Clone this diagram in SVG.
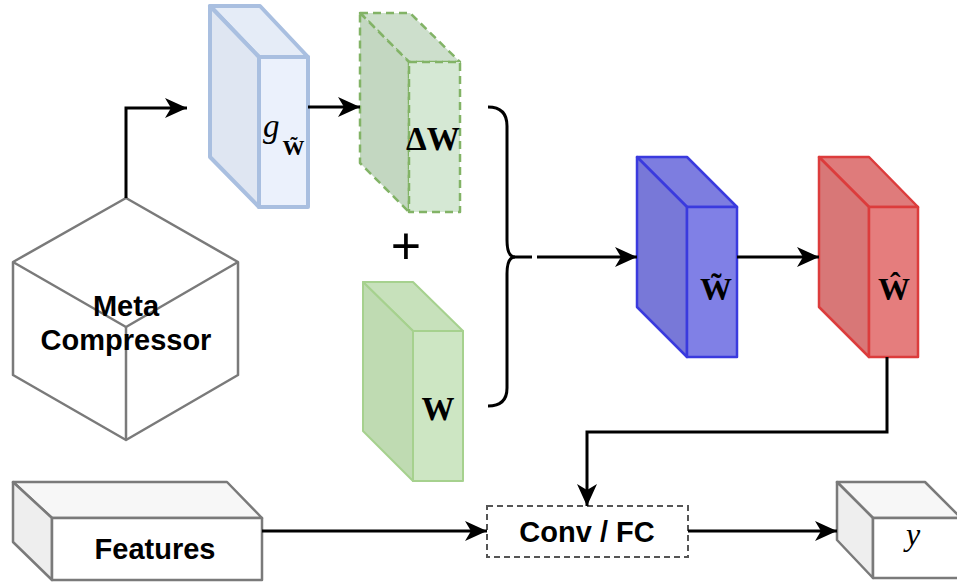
<svg xmlns="http://www.w3.org/2000/svg" width="957" height="585" viewBox="0 0 957 585">
<defs>
<marker id="arr" markerUnits="userSpaceOnUse" markerWidth="24" markerHeight="22" refX="22" refY="10" orient="auto" overflow="visible">
<path d="M0,0 L22,10 L0,20 L6,10 Z" fill="#000"/>
</marker>
<style>
.conn{fill:none;stroke:#000;stroke-width:3;marker-end:url(#arr)}
.line{fill:none;stroke:#000;stroke-width:3}
.gray{stroke:#7a7a7a;stroke-width:2.5;stroke-linejoin:round}
.sans{font-family:"Liberation Sans",Arial,Helvetica,sans-serif;font-weight:bold;font-size:29px;fill:#000}
.serif{font-family:"Liberation Serif","Times New Roman",serif;font-weight:bold;fill:#000}
.g1{stroke:#a9bfe0;stroke-width:4;stroke-linejoin:round}
.g2{stroke:#82b366;stroke-width:2.5;stroke-dasharray:8 5;stroke-linejoin:round}
.g3{stroke:#a6d18e;stroke-width:2;stroke-linejoin:round}
.g4{stroke:#3a3ade;stroke-width:2.5;stroke-linejoin:round}
.g5{stroke:#dc3c3c;stroke-width:2.5;stroke-linejoin:round}
</style>
</defs>
<rect width="957" height="585" fill="#fff"/>

<g id="meta-compressor">
<polygon class="gray" points="126,198 238,262 238,375 126,440 13,375 13,262" fill="#fff"/>
<polyline class="gray" points="13,262 126,327 238,262" fill="none"/>
<line class="gray" x1="126" y1="327" x2="126" y2="440"/>
<text class="sans" x="126" y="316" text-anchor="middle">Meta</text>
<text class="sans" x="126" y="350" text-anchor="middle">Compressor</text>
</g>

<g id="g-w">
<polygon class="g1" points="210,6 260,6 308,57 259,57" fill="#e5ecf7"/>
<polygon class="g1" points="210,6 259,57 259,207 210,157" fill="#dfe6f2"/>
<rect class="g1" x="259" y="57" width="49" height="150" fill="#ebf1fc"/>
<text x="263" y="137" font-family="Liberation Serif,serif" font-style="italic" font-size="33">g<tspan font-style="normal" font-weight="bold" font-size="22" dx="3" dy="18">W̃</tspan></text>
</g>

<g id="delta-w">
<polygon class="g2" points="360,13 410,13 460,62 409,62" fill="#cddfcc"/>
<polygon class="g2" points="360,13 409,62 409,212 360,163" fill="#c3d7c1"/>
<rect class="g2" x="409" y="62" width="51" height="150" fill="#d5e8d4"/>
<text class="serif" x="406" y="150" font-size="33">ΔW</text>
</g>

<g id="plus">
<text x="406" y="264" font-family="Liberation Sans,sans-serif" font-size="52" text-anchor="middle">+</text>
</g>

<g id="w">
<polygon class="g3" points="363,282 413,282 463,331 413,331" fill="#c7e1bb"/>
<polygon class="g3" points="363,282 413,331 413,481 363,431" fill="#bfdbb2"/>
<rect class="g3" x="413" y="331" width="50" height="150" fill="#cde6c3"/>
<text class="serif" x="438" y="420" font-size="33" text-anchor="middle">W</text>
</g>

<g id="w-tilde">
<polygon class="g4" points="637,157 687,157 737,207 687,207" fill="#7d7de0"/>
<polygon class="g4" points="637,157 687,207 687,357 637,307" fill="#7878d8"/>
<rect class="g4" x="687" y="207" width="50" height="150" fill="#8080e6"/>
<text class="serif" x="716" y="300" font-size="32" text-anchor="middle">W̃</text>
</g>

<g id="w-hat">
<polygon class="g5" points="819,157 869,157 918,207 869,207" fill="#df7b7b"/>
<polygon class="g5" points="819,157 869,207 869,357 819,307" fill="#d87777"/>
<rect class="g5" x="869" y="207" width="49" height="150" fill="#e57d7d"/>
<text class="serif" x="894" y="300" font-size="32" text-anchor="middle">Ŵ</text>
</g>

<g id="features">
<polygon class="gray" points="13,482 227,482 262,518 52,518" fill="#f7f7f7"/>
<polygon class="gray" points="13,482 52,518 52,580 13,542" fill="#eeeeee"/>
<rect class="gray" x="52" y="518" width="210" height="62" fill="#fff"/>
<text class="sans" x="155" y="559" text-anchor="middle">Features</text>
</g>

<g id="conv-fc">
<rect x="487" y="506" width="201" height="51" fill="#fff" stroke="#555" stroke-width="2" stroke-dasharray="6 4"/>
<text class="sans" x="587" y="542" text-anchor="middle">Conv / FC</text>
</g>

<g id="y">
<polygon class="gray" points="837,482 925,482 961,518 873,518" fill="#f7f7f7"/>
<polygon class="gray" points="837,482 873,518 873,578 837,540" fill="#eeeeee"/>
<rect class="gray" x="873" y="518" width="90" height="60" fill="#fff"/>
<text x="913" y="545" font-family="Liberation Serif,serif" font-style="italic" font-size="32" text-anchor="middle">y</text>
</g>

<g id="connectors">
<path class="conn" d="M126,198 L126,108 L187,108"/>
<path class="conn" d="M308,107 L360,107"/>
<path class="line" d="M488,107 Q507,107 507,126 L507,240 Q507,257 515,257 Q507,257 507,274 L507,388 Q507,406 488,406"/>
<path class="line" d="M513,257 L532,257"/>
<path class="conn" d="M537,257 L637,257"/>
<path class="conn" d="M737,257 L819,257"/>
<path class="conn" d="M887,357 L887,432 L587,432 L587,506"/>
<path class="conn" d="M262,531 L487,531"/>
<path class="conn" d="M688,531 L837,531"/>
</g>
</svg>
